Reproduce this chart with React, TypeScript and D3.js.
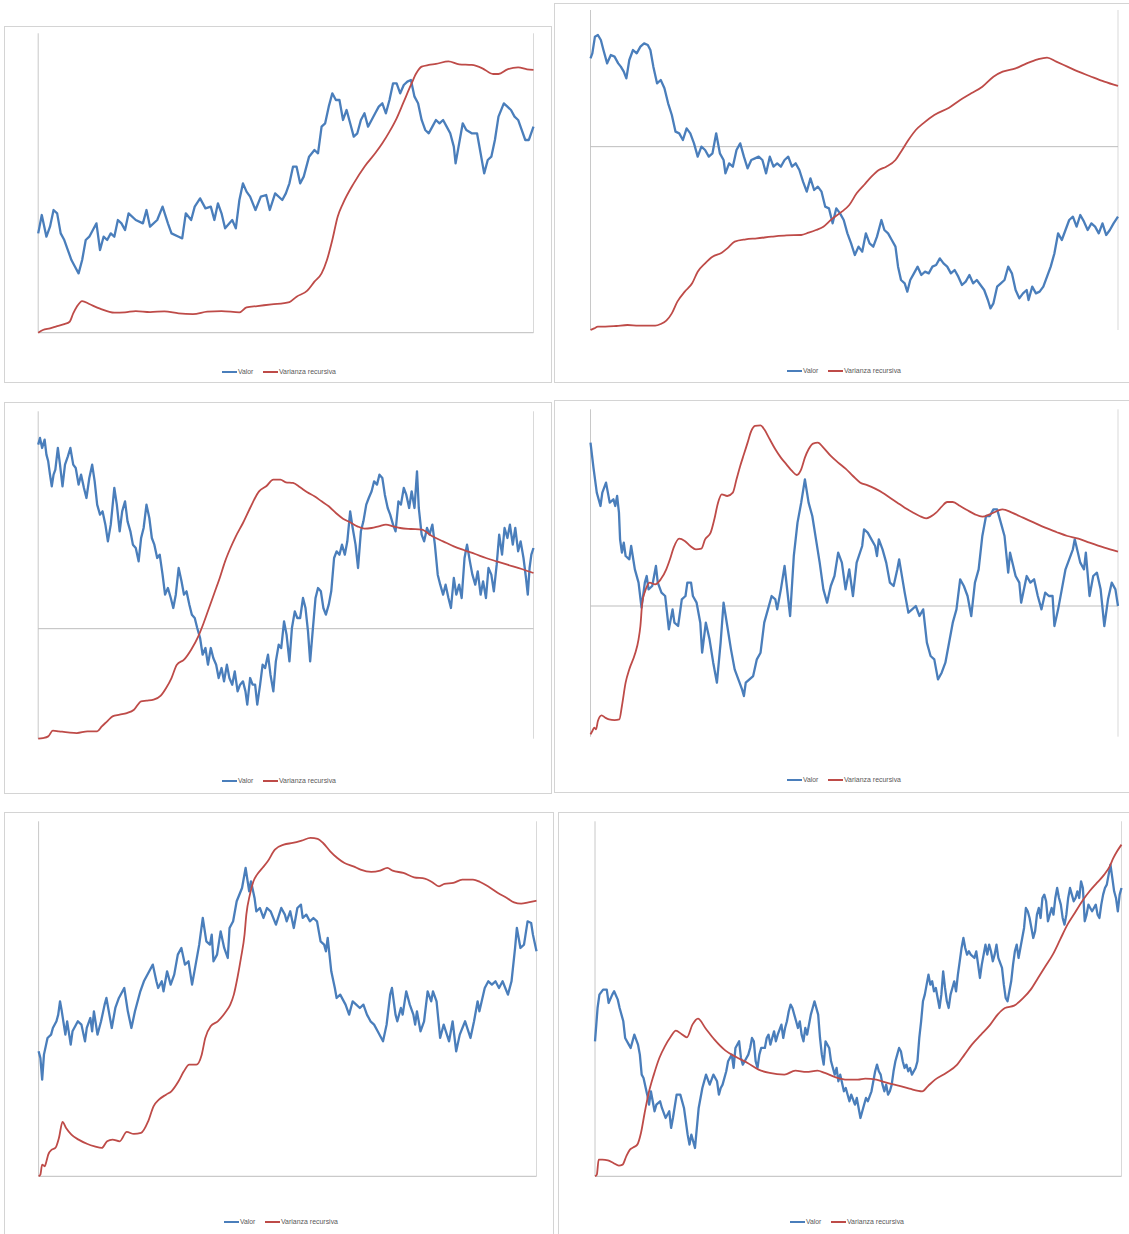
import React from 'react';
import * as d3 from 'd3';

type Pt = [number, number];

const valor1: Pt[] = [[0,298],[10,353],[23,288],[33,318],[43,368],[53,358],[63,298],[73,278],[83,248],[93,218],[103,198],[113,178],[123,218],[133,278],[143,288],[153,308],[163,328],[173,248],[183,288],[193,278],[203,298],[213,288],[223,338],[233,328],[243,308],[253,358],[273,338],[293,328],[303,368],[313,318],[333,338],[348,378],[363,328],[373,298],[393,288],[403,283],[413,358],[428,338],[438,378],[453,403],[468,373],[483,378],[493,338],[503,388],[513,358],[523,313],[543,338],[553,313],[563,398],[573,448],[583,423],[593,408],[608,368],[623,408],[638,413],[648,368],[663,418],[683,398],[693,418],[703,448],[713,498],[723,498],[733,448],[743,468],[758,528],[773,548],[783,538],[793,618],[803,628],[813,678],[823,718],[833,698],[843,698],[853,638],[863,668],[873,628],[883,588],[893,598],[903,638],[913,658],[923,618],[933,638],[943,658],[953,678],[963,688],[973,658],[983,698],[993,748],[1003,748],[1013,718],[1023,743],[1033,753],[1043,758],[1053,708],[1063,688],[1073,638],[1083,608],[1093,598],[1103,618],[1113,638],[1123,628],[1133,638],[1143,618],[1153,598],[1163,558],[1168,508],[1178,568],[1188,628],[1198,608],[1213,598],[1228,598],[1238,538],[1248,478],[1258,518],[1268,528],[1278,578],[1288,648],[1303,688],[1313,678],[1323,668],[1333,648],[1343,638],[1353,608],[1363,578],[1373,578],[1386,618]];
const varianza1: Pt[] = [[0,0],[13,8],[33,13],[53,20],[73,26],[88,33],[98,58],[108,78],[123,95],[143,86],[173,72],[213,60],[243,61],[273,65],[313,62],[353,64],[393,58],[433,56],[473,63],[513,65],[563,61],[583,76],[613,80],[653,85],[703,92],[723,108],[753,126],[773,153],[793,178],[808,218],[823,278],[838,348],[853,388],[883,448],[913,498],[943,538],[963,568],[983,603],[1003,643],[1023,693],[1043,743],[1058,778],[1073,798],[1093,803],[1113,806],[1148,814],[1178,805],[1213,803],[1243,793],[1273,776],[1288,776],[1313,790],[1343,796],[1368,790],[1386,788]];

const valor2: Pt[] = [[0,815],[5,830],[12,880],[20,885],[28,870],[35,840],[45,800],[55,825],[65,820],[75,800],[82,790],[90,775],[97,755],[105,810],[115,840],[125,830],[135,850],[145,860],[155,855],[162,840],[170,790],[180,740],[190,750],[200,725],[210,680],[220,645],[230,595],[240,590],[250,570],[260,605],[270,590],[280,560],[290,520],[300,550],[310,540],[320,520],[330,530],[340,590],[350,530],[360,510],[365,470],[375,500],[385,490],[395,540],[405,560],[415,520],[425,485],[435,510],[445,515],[455,520],[465,510],[475,470],[485,520],[495,490],[505,500],[515,490],[525,510],[535,520],[545,490],[555,500],[565,480],[575,445],[585,415],[595,455],[605,420],[615,430],[625,415],[635,370],[645,365],[655,320],[665,365],[675,350],[685,330],[695,290],[705,260],[715,225],[725,250],[735,235],[745,290],[755,260],[765,250],[775,280],[787,330],[795,300],[805,290],[815,270],[825,250],[832,190],[840,150],[850,140],[857,115],[865,150],[875,170],[885,190],[895,165],[905,175],[915,170],[925,190],[935,195],[945,215],[955,200],[965,190],[975,170],[985,180],[995,160],[1005,135],[1015,145],[1025,165],[1035,140],[1045,150],[1055,135],[1065,120],[1075,90],[1082,65],[1090,80],[1100,130],[1110,140],[1120,150],[1130,190],[1140,170],[1150,120],[1160,95],[1170,110],[1180,120],[1185,90],[1195,130],[1205,110],[1215,115],[1225,130],[1235,160],[1245,190],[1255,230],[1265,290],[1275,270],[1285,300],[1295,330],[1305,340],[1315,310],[1325,345],[1335,325],[1345,300],[1355,320],[1365,310],[1375,290],[1385,320],[1395,285],[1405,300],[1415,320],[1427,340]];
const varianza2: Pt[] = [[0,0],[10,5],[20,10],[40,10],[70,12],[100,15],[130,13],[175,13],[190,18],[205,28],[220,50],[235,85],[255,115],[275,140],[290,175],[310,200],[330,220],[355,232],[370,245],[390,265],[420,272],[450,275],[490,280],[530,284],[570,285],[590,292],[610,300],[630,310],[650,330],[680,355],[700,375],[720,410],[740,435],[760,460],[780,480],[800,490],[825,510],[840,535],[860,570],[880,600],[900,620],[930,645],[970,667],[1000,690],[1030,710],[1060,730],[1090,760],[1115,775],[1150,785],[1180,800],[1210,812],[1235,817],[1260,805],[1290,790],[1320,775],[1350,762],[1390,745],[1427,732]];

const valor3: Pt[] = [[0,882],[5,902],[11,872],[18,897],[23,852],[28,832],[33,792],[38,757],[43,792],[48,807],[55,872],[61,822],[68,757],[75,822],[83,847],[90,872],[98,822],[105,812],[113,762],[120,792],[128,752],[135,722],[143,782],[151,822],[158,772],[165,702],[173,672],[180,682],[188,642],[195,592],[203,642],[213,752],[220,702],[228,622],[235,682],[243,712],[250,652],[258,622],[265,582],[273,572],[281,532],[288,602],[295,632],[303,702],[311,662],[318,602],[325,582],[333,542],[340,552],[348,492],[355,432],[363,452],[371,422],[378,392],[385,432],[393,512],[401,472],[408,432],[415,442],[423,402],[430,372],[438,362],[445,332],[453,302],[460,252],[468,272],[475,222],[483,272],[490,242],[498,222],[505,182],[513,212],[520,172],[528,222],[535,182],[543,162],[550,202],[558,142],[565,162],[573,172],[580,142],[585,102],[593,182],[600,162],[607,162],[613,102],[621,162],[628,222],[635,212],[643,252],[650,192],[658,142],[665,232],[673,282],[680,272],[688,352],[695,312],[703,232],[710,332],[718,382],[725,362],[733,362],[741,422],[748,392],[755,322],[761,232],[768,322],[776,422],[783,452],[791,442],[798,392],[805,372],[813,402],[820,442],[828,542],[835,562],[843,552],[850,582],[858,552],[865,592],[873,682],[880,632],[888,582],[895,512],[903,622],[910,652],[918,702],[925,722],[933,742],[940,772],[948,762],[955,792],[963,782],[970,732],[978,692],[985,672],[993,642],[1000,622],[1008,712],[1015,702],[1023,752],[1030,732],[1038,692],[1045,742],[1053,692],[1060,802],[1065,692],[1073,612],[1080,592],[1088,632],[1095,612],[1103,642],[1110,582],[1118,492],[1125,462],[1133,432],[1140,462],[1148,422],[1155,392],[1163,482],[1170,432],[1178,462],[1185,422],[1193,542],[1200,582],[1208,532],[1215,492],[1223,462],[1230,502],[1238,432],[1245,472],[1253,422],[1260,512],[1268,492],[1275,442],[1283,522],[1290,612],[1298,552],[1305,632],[1313,602],[1320,642],[1328,582],[1335,632],[1343,562],[1350,592],[1358,542],[1365,482],[1370,432],[1375,512],[1380,552],[1386,572]];
const varianza3: Pt[] = [[0,0],[13,2],[28,7],[41,24],[58,22],[83,19],[108,17],[138,22],[165,22],[178,37],[193,52],[208,67],[228,72],[248,77],[268,87],[288,112],[303,114],[323,117],[343,129],[358,152],[373,182],[388,222],[408,237],[428,267],[448,307],[463,347],[478,392],[493,437],[508,482],[523,532],[538,572],[553,607],[573,647],[593,692],[618,742],[638,757],[658,777],[678,777],[693,769],[713,767],[733,754],[753,739],[773,727],[793,712],[813,697],[833,677],[853,660],[873,649],[893,637],[913,630],[933,632],[953,637],[973,642],[993,637],[1013,632],[1043,629],[1073,627],[1103,607],[1133,592],[1163,577],[1193,565],[1223,554],[1253,542],[1283,532],[1313,522],[1353,509],[1386,497]];

const valor4: Pt[] = [[0,882],[8,807],[17,732],[27,692],[32,732],[42,762],[52,702],[62,712],[67,692],[72,722],[77,672],[80,592],[85,552],[90,582],[95,542],[105,532],[110,572],[120,502],[130,462],[138,387],[147,462],[152,482],[157,442],[167,452],[177,512],[182,462],[192,432],[202,422],[212,322],[222,382],[227,342],[237,332],[247,412],[257,422],[262,462],[272,462],[277,422],[287,402],[297,342],[302,252],[312,342],[322,292],[332,222],[342,162],[352,282],[360,402],[370,332],[380,262],[390,202],[400,172],[410,142],[415,122],[420,162],[430,172],[440,182],[450,232],[460,252],[470,342],[480,382],[490,422],[500,412],[505,382],[515,442],[525,512],[540,362],[550,542],[560,642],[570,702],[580,772],[590,702],[600,662],[610,592],[620,522],[630,442],[640,402],[650,452],[660,482],[670,552],[680,522],[690,442],[700,502],[710,422],[720,522],[735,572],[740,622],[750,612],[760,592],[770,572],[775,542],[780,592],[790,562],[800,522],[810,462],[820,452],[830,502],[835,532],[850,432],[860,372],[870,382],[880,392],[890,362],[900,382],[910,282],[920,242],[930,232],[940,172],[950,192],[960,222],[970,282],[980,342],[990,382],[1000,472],[1010,452],[1020,422],[1030,362],[1040,462],[1050,502],[1060,602],[1070,662],[1080,662],[1090,682],[1100,682],[1110,642],[1120,602],[1130,492],[1135,552],[1150,482],[1160,462],[1165,402],[1180,482],[1190,462],[1200,472],[1210,422],[1220,382],[1230,432],[1240,422],[1250,422],[1255,332],[1265,382],[1275,442],[1285,502],[1295,532],[1305,562],[1310,592],[1325,522],[1335,502],[1340,552],[1350,422],[1360,482],[1370,492],[1380,442],[1390,332],[1400,412],[1410,462],[1420,442],[1427,392]];
const varianza4: Pt[] = [[0,7],[5,17],[10,27],[15,22],[20,47],[30,64],[40,57],[50,52],[65,50],[78,52],[85,92],[95,162],[105,202],[120,247],[130,292],[135,332],[140,402],[148,437],[160,462],[175,457],[190,472],[205,502],[215,532],[225,567],[240,594],[255,587],[270,572],[285,562],[300,564],[310,592],[325,612],[335,652],[345,702],[355,727],[370,722],[385,732],[395,772],[405,812],[415,847],[425,882],[435,917],[445,932],[460,934],[470,922],[485,892],[500,862],[515,837],[530,817],[545,797],[558,785],[570,802],[580,837],[590,862],[602,879],[615,882],[630,867],[650,842],[670,822],[690,804],[710,782],[730,762],[750,754],[770,744],[790,732],[810,717],[830,702],[850,687],[870,674],[890,662],[908,655],[920,660],[935,672],[950,690],[965,704],[980,704],[1000,692],[1020,679],[1040,667],[1060,660],[1080,667],[1100,677],[1115,682],[1140,672],[1170,657],[1200,642],[1230,627],[1260,614],[1290,602],[1320,594],[1350,582],[1390,567],[1427,555]];

const valor5: Pt[] = [[0,375],[5,355],[10,290],[15,365],[25,415],[35,425],[40,445],[50,465],[55,485],[60,525],[65,495],[75,425],[80,465],[90,395],[95,435],[110,465],[120,455],[130,405],[135,445],[145,475],[150,435],[155,495],[165,425],[175,465],[185,515],[190,535],[205,445],[215,505],[225,535],[240,565],[250,495],[260,445],[270,495],[285,555],[295,585],[310,615],[320,635],[330,585],[335,565],[345,585],[350,555],[360,615],[370,575],[380,605],[390,665],[400,685],[410,635],[420,645],[430,575],[440,635],[450,695],[460,775],[470,705],[480,695],[485,725],[490,645],[500,665],[510,735],[520,685],[530,655],[535,745],[545,765],[555,825],[570,865],[580,925],[590,855],[595,885],[605,835],[610,795],[620,805],[630,775],[640,805],[650,795],[665,755],[680,805],[690,785],[695,765],[705,795],[715,745],[725,805],[735,815],[740,775],[750,785],[760,765],[770,775],[780,765],[790,705],[800,695],[805,675],[810,715],[820,615],[830,565],[835,535],[845,545],[860,515],[870,485],[880,525],[890,515],[900,505],[910,515],[920,485],[930,465],[940,455],[950,435],[965,405],[975,455],[985,545],[990,565],[1000,485],[1005,465],[1015,505],[1020,485],[1030,555],[1040,515],[1050,485],[1055,455],[1060,495],[1070,435],[1080,465],[1090,555],[1100,525],[1105,555],[1115,525],[1125,415],[1135,455],[1150,405],[1160,465],[1170,375],[1180,425],[1195,465],[1210,415],[1220,465],[1230,525],[1235,495],[1250,565],[1260,585],[1270,575],[1280,585],[1290,565],[1300,585],[1315,545],[1325,585],[1335,685],[1340,745],[1350,685],[1360,695],[1370,765],[1380,760],[1385,725],[1395,675]];
const varianza5: Pt[] = [[0,0],[5,5],[10,35],[17,30],[22,45],[27,65],[37,80],[47,85],[57,115],[67,163],[77,145],[92,125],[112,110],[137,97],[157,90],[177,85],[192,105],[207,110],[227,105],[247,133],[267,127],[287,130],[307,165],[322,210],[337,230],[357,245],[372,255],[392,285],[407,315],[422,335],[442,335],[457,365],[467,415],[482,450],[502,465],[522,490],[537,515],[547,545],[557,595],[567,655],[577,725],[582,785],[592,845],[602,885],[612,905],[627,925],[642,945],[662,980],[687,995],[712,1000],[737,1007],[762,1015],[782,1012],[797,1000],[817,975],[837,955],[857,940],[882,930],[902,920],[932,913],[957,917],[977,925],[992,917],[1022,910],[1052,897],[1082,893],[1102,883],[1122,870],[1137,877],[1162,880],[1187,890],[1217,890],[1237,883],[1262,868],[1287,850],[1312,835],[1332,822],[1352,818],[1372,822],[1395,827]];

const valor6: Pt[] = [[0,405],[7,505],[12,545],[22,560],[32,560],[37,520],[47,545],[52,555],[62,530],[67,505],[77,465],[82,415],[92,395],[97,385],[107,425],[117,395],[122,365],[127,305],[132,295],[142,245],[147,215],[152,255],[162,195],[167,215],[177,225],[182,205],[192,175],[202,195],[207,145],[212,175],[222,245],[232,245],[242,205],[252,125],[257,95],[262,125],[272,85],[282,205],[292,265],[302,305],[312,275],[322,305],[332,285],[337,245],[342,265],[347,275],[357,315],[362,345],[372,365],[377,325],[382,385],[392,405],[397,355],[402,335],[407,345],[417,365],[422,385],[427,415],[432,405],[437,345],[442,325],[447,365],[452,385],[462,385],[467,415],[472,425],[477,395],[487,435],[492,405],[497,425],[507,455],[512,415],[517,445],[522,465],[527,495],[532,515],[537,505],[547,465],[552,445],[557,465],[562,425],[567,405],[572,445],[577,425],[587,485],[592,505],[597,525],[607,485],[612,415],[617,365],[622,335],[627,405],[637,385],[642,345],[652,305],[657,325],[662,285],[667,305],[677,255],[682,265],[692,225],[697,245],[707,215],[712,235],[722,175],[727,195],[737,235],[742,225],[752,255],[757,285],[762,315],[767,335],[772,315],[777,305],[782,275],[787,255],[792,275],[797,245],[802,255],[807,275],[812,315],[817,345],[822,365],[827,385],[832,375],[837,345],[842,325],[847,335],[852,315],[857,325],[862,305],[872,325],[877,345],[882,415],[887,465],[892,525],[897,545],[902,575],[907,605],[912,575],[917,585],[922,555],[927,565],[932,535],[937,505],[942,545],[947,615],[952,565],[957,525],[962,505],[967,545],[972,565],[977,585],[982,555],[987,605],[992,645],[997,685],[1002,715],[1007,685],[1012,665],[1017,675],[1022,665],[1032,655],[1037,675],[1042,635],[1047,595],[1052,635],[1057,665],[1062,695],[1067,665],[1072,695],[1077,675],[1082,645],[1087,665],[1092,695],[1097,655],[1107,625],[1112,575],[1117,535],[1122,525],[1127,555],[1132,585],[1137,635],[1142,675],[1147,695],[1152,655],[1157,685],[1162,715],[1167,745],[1172,805],[1177,795],[1182,775],[1187,745],[1192,715],[1197,735],[1202,785],[1207,805],[1212,775],[1217,835],[1222,845],[1227,825],[1232,765],[1237,785],[1242,805],[1247,785],[1252,835],[1257,865],[1262,835],[1267,815],[1272,775],[1277,755],[1282,785],[1287,835],[1292,865],[1297,845],[1302,825],[1307,835],[1312,855],[1317,835],[1322,885],[1327,865],[1332,765],[1337,785],[1342,815],[1347,805],[1352,795],[1357,805],[1362,815],[1367,785],[1372,775],[1377,815],[1382,845],[1387,865],[1392,875],[1397,905],[1402,935],[1407,895],[1412,855],[1417,835],[1422,795],[1427,845],[1432,865]];
const varianza6: Pt[] = [[0,0],[5,5],[10,50],[20,50],[35,48],[50,40],[65,32],[75,35],[85,60],[95,80],[105,87],[115,95],[125,130],[135,190],[145,245],[160,305],[175,355],[190,390],[205,417],[220,437],[235,427],[250,417],[265,455],[280,473],[300,445],[325,410],[355,377],[385,357],[415,340],[445,320],[475,310],[515,305],[545,317],[575,313],[605,317],[625,310],[655,297],[685,290],[715,290],[735,293],[765,290],[795,280],[825,272],[855,263],[890,255],[905,270],[925,290],[955,310],[985,335],[1005,365],[1025,395],[1050,425],[1075,455],[1095,485],[1115,505],[1140,512],[1165,535],[1185,560],[1205,595],[1225,630],[1245,665],[1265,710],[1285,755],[1305,790],[1325,825],[1345,855],[1365,880],[1385,905],[1400,930],[1410,955],[1420,975],[1432,995]];

const seriesNames = ['Valor', 'Varianza recursiva'];

interface Panel {
  box: [number, number, number, number];
  plot: { left: number; right: number; top: number; bottom: number };
  xMax: number;
  yMax: number;
  axisAt: number; // value where the horizontal axis sits
  valor: Pt[];
  varianza: Pt[];
  legend: [number, number];
}

const panels: Panel[] = [
  { box: [4.5, 26.5, 547, 356], plot: { left: 38.2, right: 533.5, top: 33.3, bottom: 332.7 }, xMax: 1386, yMax: 898, axisAt: 0, valor: valor1, varianza: varianza1, legend: [222, 372] },
  { box: [554.5, 3.5, 600, 379], plot: { left: 590.5, right: 1118, top: 10, bottom: 330 }, xMax: 1427, yMax: 960, axisAt: 550, valor: valor2, varianza: varianza2, legend: [787, 371] },
  { box: [4.5, 402.5, 547, 391], plot: { left: 38.2, right: 533.5, top: 411.3, bottom: 738.7 }, xMax: 1386, yMax: 982, axisAt: 330, valor: valor3, varianza: varianza3, legend: [222, 781] },
  { box: [554.5, 400.5, 600, 392], plot: { left: 590.5, right: 1118, top: 409.3, bottom: 736.7 }, xMax: 1427, yMax: 982, axisAt: 392, valor: valor4, varianza: varianza4, legend: [787, 780] },
  { box: [4.5, 812.5, 549, 440], plot: { left: 38.6, right: 536.5, top: 821.3, bottom: 1176.3 }, xMax: 1395, yMax: 1065, axisAt: 0, valor: valor5, varianza: varianza5, legend: [224, 1222] },
  { box: [558.5, 812.5, 600, 440], plot: { left: 595, right: 1121.5, top: 821.3, bottom: 1176.3 }, xMax: 1432, yMax: 1065, axisAt: 0, valor: valor6, varianza: varianza6, legend: [790, 1222] },
];

const BLUE = '#4a7ebb';
const RED = '#be4b48';

const ChartPanel: React.FC<{ p: Panel }> = ({ p }) => {
  const x = d3.scaleLinear().domain([0, p.xMax]).range([p.plot.left, p.plot.right]);
  const y = d3.scaleLinear().domain([0, p.yMax]).range([p.plot.bottom, p.plot.top]);
  const blueLine = d3.line<Pt>().x(d => x(d[0])).y(d => y(d[1]));
  const redLine = d3.line<Pt>().x(d => x(d[0])).y(d => y(d[1])).curve(d3.curveMonotoneX);
  const [lx, ly] = p.legend;
  return (
    <g>
      <rect x={p.box[0]} y={p.box[1]} width={p.box[2]} height={p.box[3]} fill="#fff" stroke="#d4d4d4" strokeWidth={1} />
      <line x1={p.plot.right} x2={p.plot.right} y1={p.plot.top} y2={p.plot.bottom} stroke="#d9d9d9" strokeWidth={1} />
      <line x1={p.plot.left} x2={p.plot.left} y1={p.plot.top} y2={p.plot.bottom} stroke="#c8c8c8" strokeWidth={1} />
      <line x1={p.plot.left} x2={p.plot.right} y1={y(p.axisAt)} y2={y(p.axisAt)} stroke="#bdbdbd" strokeWidth={1} />
      <path d={blueLine(p.valor) || ''} fill="none" stroke={BLUE} strokeWidth={2.3} strokeLinejoin="round" />
      <path d={redLine(p.varianza) || ''} fill="none" stroke={RED} strokeWidth={1.8} />
      <g fontFamily="Liberation Sans, Arial, sans-serif" fontSize={6.8} fill="#595959">
        <line x1={lx} x2={lx + 15} y1={ly} y2={ly} stroke={BLUE} strokeWidth={2} />
        <text x={lx + 16} y={ly + 2.4}>{seriesNames[0]}</text>
        <line x1={lx + 41} x2={lx + 56} y1={ly} y2={ly} stroke={RED} strokeWidth={2} />
        <text x={lx + 57} y={ly + 2.4} textLength={57} lengthAdjust="spacingAndGlyphs">{seriesNames[1]}</text>
      </g>
    </g>
  );
};

const App: React.FC = () => (
  <svg width={1129} height={1234} style={{ position: 'absolute', left: 0, top: 0, background: '#fff' }}>
    {panels.map((p, i) => <ChartPanel key={i} p={p} />)}
  </svg>
);

export default App;
